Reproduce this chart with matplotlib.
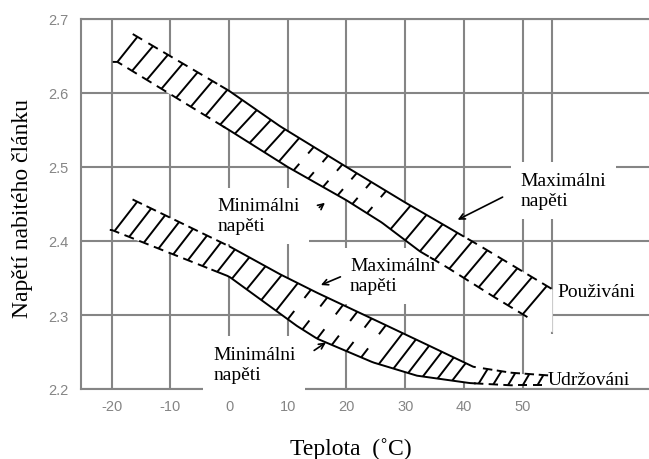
import numpy as np
import matplotlib.pyplot as plt

plt.rcParams['font.family'] = ['Liberation Serif', 'DejaVu Serif']

GRAY = '#858585'

# axis ticks
temp_ticks = [-20, -10, 0, 10, 20, 30, 40, 50]
temp_labels = ['-20', '-10', '0', '10', '20', '30', '40', '50']
volt_ticks = [2.2, 2.3, 2.4, 2.5, 2.6, 2.7]
volt_labels = ['2.2', '2.3', '2.4', '2.5', '2.6', '2.7']

# band "Použiváni" (upper): max / min voltage edges
use_max_t = [-18.6, 0, 8.7, 20, 30, 42.8, 55]
use_max_v = [2.69, 2.603, 2.555, 2.50, 2.452, 2.393, 2.335]
use_min_t = [-19, 0, 10, 20, 26, 32.5, 37, 45, 55]
use_min_v = [2.642, 2.55, 2.50, 2.455, 2.425, 2.386, 2.365, 2.325, 2.277]

# band "Udržováni" (lower)
keep_max_t = [-19.5, 0, 8.7, 15, 25.7, 34.2, 41.6, 48, 55]
keep_max_v = [2.468, 2.393, 2.355, 2.33, 2.29, 2.258, 2.23, 2.222, 2.218]
keep_min_t = [-20, 0, 11.6, 15, 24.5, 32, 41, 48, 55]
keep_min_v = [2.415, 2.352, 2.285, 2.268, 2.236, 2.218, 2.208, 2.205, 2.205]


def inside(x, spans):
    return any(a <= x <= b for a, b in spans)


def draw_band(ax, tt, tv, bt, bv, solid_top, solid_bot, rung_spans, tick_spans,
              step=2.5, slant=71.0, cap=0.8):
    top = lambda x: np.interp(x, tt, tv)
    bot = lambda x: np.interp(x, bt, bv)
    t = np.linspace(max(tt[0], bt[0]), min(tt[-1], bt[-1]), 300)
    ax.fill_between(t, bot(t), top(t), color='white', lw=0, zorder=3)

    kw = dict(color='black', lw=1.4, zorder=5, solid_capstyle='butt')
    for a, b in solid_top:
        s = np.linspace(a, b, 100)
        ax.plot(s, top(s), **kw)
    for a, b in solid_bot:
        s = np.linspace(a, b, 100)
        ax.plot(s, bot(s), **kw)

    # full hatch strokes, with short rail pieces where the rail is broken
    for a, b in rung_spans:
        for x in np.arange(a, b + 1e-6, step):
            d = slant * (top(x) - bot(x))
            if x + d > tt[-1]:
                break
            ax.plot([x, x + d], [bot(x), top(x + d)], **kw)
            if not inside(x, solid_bot):
                s = np.linspace(x - cap, x + cap, 5)
                ax.plot(s, bot(s), **kw)
            if not inside(x + d, solid_top):
                s = np.linspace(x + d - cap, x + d + cap, 5)
                ax.plot(s, top(s), **kw)

    # only short ticks on both rails
    for a, b in tick_spans:
        for x in np.arange(a, b + 1e-6, step):
            d = slant * (top(x) - bot(x))
            y0, y1 = bot(x), top(x + d)
            ax.plot([x, x + 0.28 * d], [y0, y0 + 0.28 * (y1 - y0)], **kw)
            ax.plot([x + d, x + 0.72 * d], [y1, y1 - 0.28 * (y1 - y0)], **kw)


fig = plt.figure(figsize=(6.49, 4.60), dpi=100)
ax = fig.add_axes([81 / 649, 70 / 460, 568 / 649, 370 / 460])
ax.set_xlim(-25.2, 71.5)
ax.set_ylim(2.2, 2.7)

ax.set_xticks(temp_ticks)
ax.set_xticklabels(temp_labels, family='Liberation Sans')
ax.set_yticks(volt_ticks)
ax.set_yticklabels(volt_labels, family='Liberation Sans')
ax.tick_params(length=0, labelcolor=GRAY, labelsize=10.5)
ax.tick_params(axis='x', pad=7)
ax.tick_params(axis='y', pad=9)
ax.grid(True, color=GRAY, lw=1.5)
ax.set_axisbelow(True)
ax.vlines(55, 2.275, 2.7, color=GRAY, lw=1.5, zorder=1)
for side in ['left', 'top', 'bottom']:
    ax.spines[side].set_color(GRAY)
    ax.spines[side].set_linewidth(1.5)
ax.spines['right'].set_visible(False)

draw_band(ax, use_max_t, use_max_v, use_min_t, use_min_v,
          solid_top=[(-1.5, 40)], solid_bot=[(-1, 34)],
          rung_spans=[(-19, 9), (27.5, 52)], tick_spans=[(11, 25.5)])
draw_band(ax, keep_max_t, keep_max_v, keep_min_t, keep_min_v,
          solid_top=[(0, 42)], solid_bot=[(-3, 42)],
          rung_spans=[(-19.5, 8), (25.5, 40), (42.5, 54)], tick_spans=[(10, 24)])

box = dict(boxstyle='square,pad=0.5', fc='white', ec='none')
tk = dict(fontsize=14, zorder=4, linespacing=1.2)
ax.text(49.6, 2.493, 'Maximálni\nnapěti', va='top', bbox=box, **tk)
ax.text(-2.0, 2.459, 'Minimálni\nnapěti', va='top', bbox=box, **tk)
ax.text(20.6, 2.378, 'Maximálni\nnapěti', va='top', bbox=box, **tk)
ax.text(-2.7, 2.258, 'Minimálni\nnapěti', va='top', bbox=box, **tk)
ax.text(55.9, 2.326, 'Použiváni', va='baseline', **tk)
ax.text(54.3, 2.207, 'Udržováni', va='baseline', **tk)

arrow = dict(arrowstyle='->', color='black', lw=1.2)
ax.annotate('', xy=(38.5, 2.427), xytext=(47, 2.461), arrowprops=arrow, zorder=6)
ax.annotate('', xy=(16.7, 2.454), xytext=(15.0, 2.443), arrowprops=arrow, zorder=6)
ax.annotate('', xy=(15.2, 2.339), xytext=(19.4, 2.353), arrowprops=arrow, zorder=6)
ax.annotate('', xy=(16.9, 2.265), xytext=(14.1, 2.250), arrowprops=arrow, zorder=6)

fig.text(290 / 649, 1 - 455 / 460, 'Teplota  (˚C)', fontsize=17, va='baseline', ha='left')
fig.text(28 / 649, 1 - 209 / 460, 'Napětí nabitého článku', fontsize=17, rotation=90,
         rotation_mode='anchor', ha='center', va='baseline')

fig.savefig('out.png', dpi=100)
